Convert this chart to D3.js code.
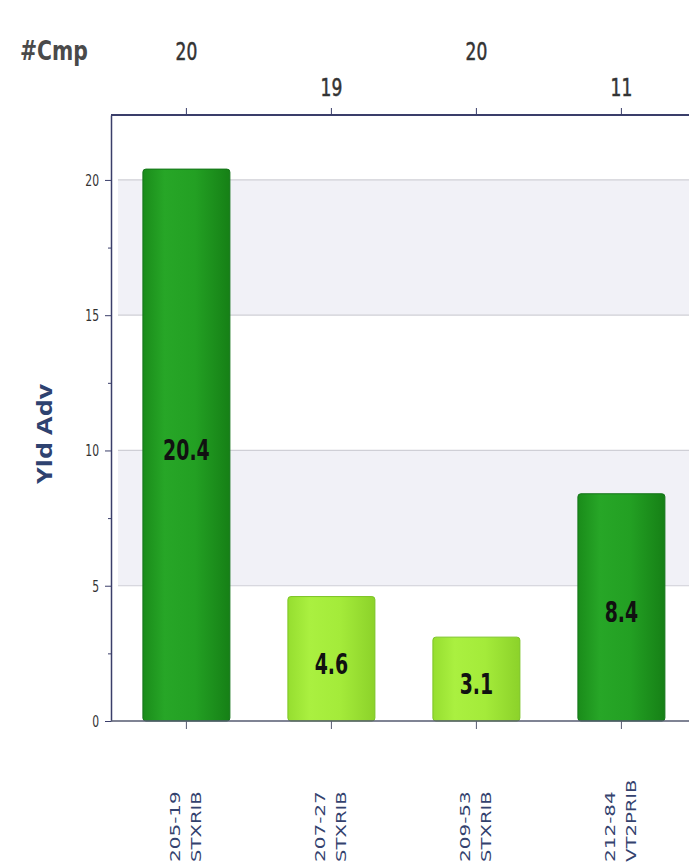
<!DOCTYPE html>
<html>
<head>
<meta charset="utf-8">
<script src="https://cdn.jsdelivr.net/npm/d3@7"></script>
<style>
  html, body { margin: 0; padding: 0; background: #ffffff; }
  svg { display: block; }
</style>
</head>
<body>
<div id="chart"></div>
<script>
// ---- data ----
const categories = ["205-19 STXRIB", "207-27 STXRIB", "209-53 STXRIB", "212-84 VT2PRIB"];
const codeLine = ["205-19", "207-27", "209-53", "212-84"];
const nameLine = ["STXRIB", "STXRIB", "STXRIB", "VT2PRIB"];
const yldAdv = [20.4, 4.6, 3.1, 8.4];
const cmpCount = [20, 19, 20, 11];
const barTier = ["dark", "light", "light", "dark"];
const yTicks = [0, 5, 10, 15, 20];
const yMinorTicks = [2.5, 7.5, 12.5, 17.5];
const yBands = [[15, 20], [5, 10]];

// ---- layout ----
const W = 689, H = 865;
const plotLeft = 111, plotTop = 115, plotBottom = 721;
const condensed = "'DejaVu Sans Condensed', 'DejaVu Sans', sans-serif";

const svg = d3.select("#chart").append("svg")
  .attr("width", W).attr("height", H);

const defs = svg.append("defs");
function grad(id, stops) {
  const g = defs.append("linearGradient").attr("id", id)
    .attr("x1", "0%").attr("x2", "100%").attr("y1", "0%").attr("y2", "0%");
  stops.forEach(s => g.append("stop").attr("offset", s[0]).attr("stop-color", s[1]));
}
grad("gDark", [[0, "#1a8c1a"], [0.25, "#27a627"], [0.6, "#23a023"], [1, "#168016"]]);
grad("gLight", [[0, "#96de30"], [0.25, "#aaf040"], [0.6, "#a4eb3a"], [1, "#8cd22a"]]);

const x = d3.scaleBand()
  .domain(categories)
  .range([plotLeft, plotLeft + 145 * 4.04])
  .paddingInner(0.4)
  .paddingOuter(0.22);

const y = d3.scaleLinear()
  .domain([0, 22.4])
  .range([plotBottom, plotTop]);

// bands
svg.append("g").selectAll("rect").data(yBands).join("rect")
  .attr("x", plotLeft + 7)
  .attr("width", W - plotLeft - 7)
  .attr("y", d => y(d[1]))
  .attr("height", d => y(d[0]) - y(d[1]))
  .attr("fill", "#f1f1f7");

// gridlines
svg.append("g").selectAll("line").data(yTicks.filter(t => t > 0)).join("line")
  .attr("x1", plotLeft + 7).attr("x2", W)
  .attr("y1", d => y(d)).attr("y2", d => y(d))
  .attr("stroke", "#cfcfd6").attr("stroke-width", 1.2);

// bars
const bars = svg.append("g");
bars.selectAll("rect").data(categories).join("rect")
  .attr("x", d => x(d))
  .attr("width", x.bandwidth())
  .attr("y", (d, i) => y(yldAdv[i]))
  .attr("height", (d, i) => y(0) - y(yldAdv[i]))
  .attr("rx", 3)
  .attr("fill", (d, i) => barTier[i] === "dark" ? "url(#gDark)" : "url(#gLight)")
  .attr("stroke", (d, i) => barTier[i] === "dark" ? "#15751a" : "#7cc425")
  .attr("stroke-width", 1);

bars.selectAll("text").data(categories).join("text")
  .attr("transform", (d, i) =>
    `translate(${x(d) + x.bandwidth() / 2},${(y(yldAdv[i]) + y(0)) / 2 + 5}) scale(1,1.35)`)
  .attr("dy", "0.35em")
  .attr("text-anchor", "middle")
  .attr("font-family", condensed)
  .attr("font-weight", "bold")
  .attr("font-size", 21)
  .attr("fill", "#111")
  .text((d, i) => yldAdv[i].toFixed(1));

const axisColor = "#3a3e6a";

// left axis
const yAxis = svg.append("g").attr("transform", `translate(${plotLeft},0)`)
  .call(d3.axisLeft(y).tickValues(yTicks).tickSize(6).tickSizeOuter(0));
yAxis.select(".domain").attr("stroke", axisColor).attr("stroke-width", 1.5);
yAxis.selectAll(".tick line").attr("stroke", axisColor);
yAxis.selectAll(".tick text")
  .attr("font-family", condensed)
  .attr("font-size", 12).attr("fill", "#333")
  .attr("x", null).attr("dy", null)
  .attr("transform", "translate(-12,0) scale(1,1.35) translate(0,4)");
svg.append("g").attr("transform", `translate(${plotLeft},0)`)
  .call(d3.axisLeft(y).tickValues(yMinorTicks).tickSize(3).tickFormat(""))
  .call(g => g.select(".domain").remove())
  .selectAll(".tick line").attr("stroke", axisColor);

// bottom axis
const xAxisB = svg.append("g").attr("transform", `translate(0,${plotBottom})`)
  .call(d3.axisBottom(x).tickSize(8).tickSizeOuter(0).tickFormat(""));
xAxisB.select(".domain").attr("stroke", "#555a70").attr("stroke-width", 1.5)
  .attr("d", `M${plotLeft},0H${W}`);
xAxisB.selectAll(".tick line").attr("stroke", "#555a70");

// top axis
const xAxisT = svg.append("g").attr("transform", `translate(0,${plotTop})`)
  .call(d3.axisTop(x).tickSize(7).tickSizeOuter(0).tickFormat(""));
xAxisT.select(".domain").attr("stroke", axisColor).attr("stroke-width", 2)
  .attr("d", `M${plotLeft},0H${W}`);
xAxisT.selectAll(".tick line").attr("stroke", axisColor);

// #Cmp labels (staggered)
svg.append("text")
  .attr("transform", "translate(20,60) scale(1,1.3)")
  .attr("font-family", condensed).attr("font-size", 20).attr("font-weight", "bold")
  .attr("fill", "#4a4a4a").attr("textLength", 68).attr("lengthAdjust", "spacingAndGlyphs")
  .text("#Cmp");
svg.append("g").selectAll("text").data(categories).join("text")
  .attr("transform", (d, i) =>
    `translate(${x(d) + x.bandwidth() / 2},${i % 2 === 0 ? 60 : 96}) scale(1,1.35)`)
  .attr("text-anchor", "middle")
  .attr("font-family", condensed).attr("font-size", 19)
  .attr("fill", "#333").attr("stroke", "#333").attr("stroke-width", 0.4)
  .text((d, i) => cmpCount[i]);

// y title
svg.append("text")
  .attr("transform", `translate(52,434) rotate(-90)`)
  .attr("text-anchor", "middle")
  .attr("font-family", "'Open Sans', 'DejaVu Sans', sans-serif")
  .attr("font-weight", "bold")
  .attr("font-size", 21)
  .attr("textLength", 100).attr("lengthAdjust", "spacingAndGlyphs")
  .attr("fill", "#2e4270")
  .text("Yld Adv");

// bottom category labels (rotated, two lines)
const lab = svg.append("g").selectAll("g").data(categories).join("g")
  .attr("transform", d => `translate(${x(d) + x.bandwidth() / 2},862) rotate(-90)`);
lab.append("text")
  .attr("x", 0).attr("y", -6)
  .attr("font-family", "'DejaVu Sans', sans-serif").attr("font-size", 14)
  .attr("fill", "#34426e")
  .attr("textLength", (d, i) => codeLine[i].length * 11.8)
  .attr("lengthAdjust", "spacingAndGlyphs")
  .text((d, i) => codeLine[i]);
lab.append("text")
  .attr("x", 0).attr("y", 15)
  .attr("font-family", "'DejaVu Sans', sans-serif").attr("font-size", 14)
  .attr("fill", "#34426e")
  .attr("textLength", (d, i) => nameLine[i].length * 11.8)
  .attr("lengthAdjust", "spacingAndGlyphs")
  .text((d, i) => nameLine[i]);
</script>
</body>
</html>
